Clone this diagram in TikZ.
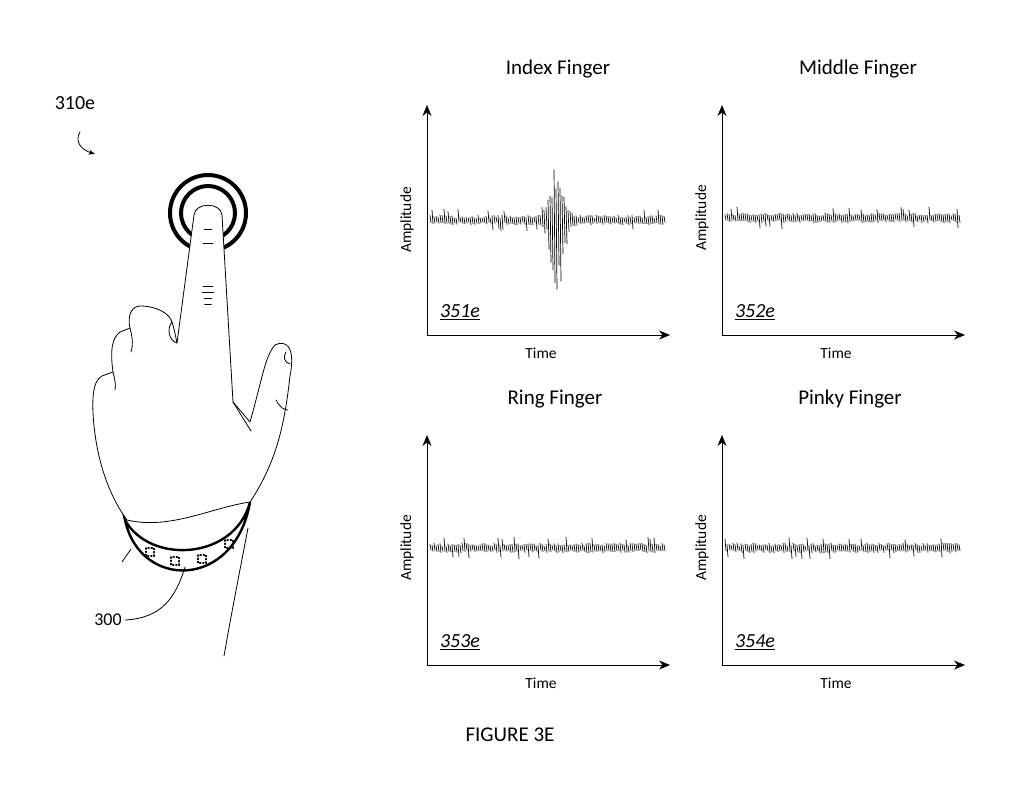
\documentclass[tikz,border=0pt]{standalone}
\usepackage{fontspec}
\setmainfont{Carlito}
\usetikzlibrary{arrows.meta}

\begin{document}
\begin{tikzpicture}[x=1pt, y=-1pt, >=Stealth, line cap=round,
  axis/.style={->, thick, >={Stealth[length=11pt,width=9pt]}},
  title/.style={font=\fontsize{21}{21}\selectfont},
  lbl/.style={font=\fontsize{20}{20}\selectfont},
  small/.style={font=\fontsize{15.5}{15.5}\selectfont},
  tag/.style={font=\fontsize{20}{20}\selectfont\itshape},
  outline/.style={line width=0.8pt, line join=round}]
  \useasboundingbox (0,0) rectangle (1024,788);
  \pgfmathsetseed{7}

  % Hand
  \draw[line width=4pt] (208,213) circle (38);
  \draw[line width=4pt] (208,213) circle (27);
  \draw[outline, fill=white] (177,343) -- (194,215) .. controls (195,202) and (221,202) .. (222,215)
    -- (233,402) -- (250,422)
    .. controls (262,380) and (265,356) .. (275,345) .. controls (285,340) and (296,345) .. (290,376)
    .. controls (285,420) and (278,460) .. (250,502)
    .. controls (210,508) and (170,530) .. (127,520)
    .. controls (105,490) and (95,450) .. (93,413)
    .. controls (92,390) and (95,380) .. (102,376) -- (113,372)
    .. controls (110,350) and (112,338) .. (120,332) -- (130,328)
    .. controls (127,315) and (132,305) .. (142,306) .. controls (160,307) and (170,315) .. (172,322)
    .. controls (176,335) and (176,340) .. (177,343);
  \draw[outline] (172,322) .. controls (167,328) and (168,340) .. (177,343);
  \draw[outline] (286,352) .. controls (283,357) and (284,362) .. (290,364);
  \draw[outline] (276,400) .. controls (280,408) and (285,410) .. (288,410);
  \draw[outline] (113,372) .. controls (115,380) and (116,385) .. (115,390);
  \draw[outline] (130,328) .. controls (133,340) and (133,345) .. (131,352);
  \draw[outline] (233,402) -- (251,431);
  \foreach \yy/\w in {229/8,243/10,286/10,292/12,298/8,304/7}
    \draw[thin] ({208-\w/2},\yy) -- ({208+\w/2},\yy);

  % Band
  \draw[line width=2.4pt, fill=white] (125,520) .. controls (140,590) and (235,590) .. (250,502)
    .. controls (235,560) and (150,565) .. (125,520) -- cycle;
  \foreach \dx/\dy in {150/552,175/561,202/559,229/544}
    \draw[dotted, line width=1.2pt] (\dx-4,\dy-4) rectangle (\dx+4,\dy+4);
  \draw[outline] (131,549) -- (122,562);
  \draw[outline] (248,528) .. controls (240,570) and (232,610) .. (224,656);

  % Labels of the hand
  \node[lbl] (t310) at (75,103) {310e};
  \node[small, font=\fontsize{18}{18}\selectfont] (t300) at (108,620) {300};
  \draw[->, thick] (80,132) .. controls (74,142) and (82,150) .. (95,154);
  \draw[thick] (t300.east) .. controls (160,618) and (175,600) .. (185,567);

  % Plots
  \foreach \ox/\oy/\base/\num/\name/\tx/\burst in {
      427/335/220/351e/Index Finger/558/1,
      722/335/218/352e/Middle Finger/858/0,
      427/665/548/353e/Ring Finger/555/0,
      722/665/548/354e/Pinky Finger/850/0}{
    \draw[axis] (\ox,\oy) -- (\ox,\oy-230);
    \draw[axis] (\ox,\oy) -- (\ox+243,\oy);
    \node[title] at (\tx,\oy-266) {\name};
    \node[small] at (\ox+114,\oy+18) {Time};
    \node[small, rotate=90] at (\ox-20,\base) {Amplitude};
    \node[tag] at (\ox+33,\oy-23) {\underline{\num}};
    \foreach \i in {0,2,...,234}{
      \pgfmathsetmacro{\ua}{2+3*rnd+(rnd>0.93)*6}
      \pgfmathsetmacro{\la}{2+3*rnd+(rnd>0.93)*6}
      \pgfmathsetmacro{\env}{\burst*exp(-((\i-127)/9)^2)}
      \pgfmathsetmacro{\uu}{\ua+\env*(25+30*rnd)}
      \pgfmathsetmacro{\ll}{\la+\env*(25+50*rnd)}
      \draw[line width=0.7pt] (\ox+3+\i,\base-\uu) -- (\ox+4+\i,\base+\ll);
    }
  }

  \node[title] (fig) at (510,735) {FIGURE 3E};
\end{tikzpicture}
\end{document}
